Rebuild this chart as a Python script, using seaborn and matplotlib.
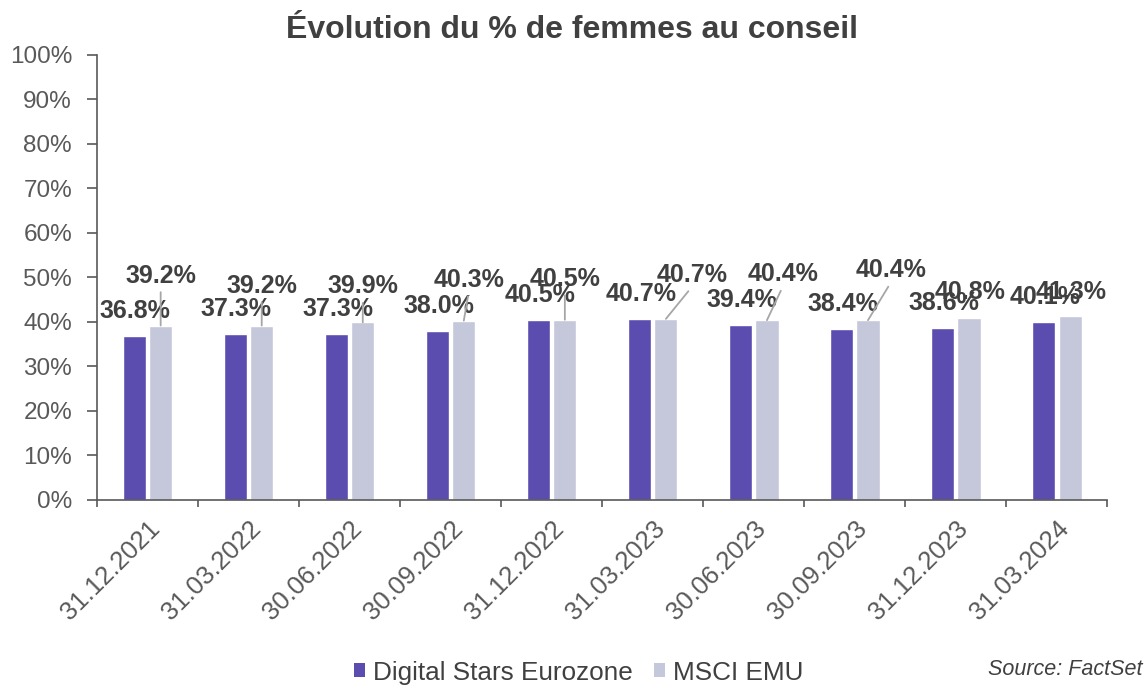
import matplotlib
matplotlib.use("Agg")
import matplotlib.pyplot as plt
from matplotlib.patches import Patch
import pandas as pd
import seaborn as sns

# donnees
dates = ['31.12.2021', '31.03.2022', '30.06.2022', '30.09.2022', '31.12.2022',
         '31.03.2023', '30.06.2023', '30.09.2023', '31.12.2023', '31.03.2024']
digital_stars = [36.8, 37.3, 37.3, 38.0, 40.5, 40.7, 39.4, 38.4, 38.6, 40.1]
msci_emu = [39.2, 39.2, 39.9, 40.3, 40.5, 40.7, 40.4, 40.4, 40.8, 41.3]
series_names = ['Digital Stars Eurozone', 'MSCI EMU']

# decalage des etiquettes (pixels) par rapport au haut des barres
dark_offsets = [(1, 25)] * len(dates)
light_offsets = [(0, 50), (0, 40), (0, 36), (5, 41), (0, 41),
                 (26, 44), (16, 46), (23, 50), (1, 26), (1, 24)]

colors = ['#5b4db0', '#c5c8db']
text_color = '#595959'
label_color = '#404040'

df = pd.DataFrame({
    'date': dates * 2,
    'value': digital_stars + msci_emu,
    'serie': [series_names[0]] * len(dates) + [series_names[1]] * len(dates),
})

sns.set_style("ticks")
plt.rcParams['font.family'] = ['Liberation Sans', 'DejaVu Sans']

fig = plt.figure(figsize=(11.48, 6.88), dpi=100)
ax = fig.add_axes([0.0845, 0.2733, 0.8802, 0.6468])

sns.barplot(data=df, x='date', y='value', hue='serie', palette=colors,
            width=0.52, gap=0.12, legend=False, ax=ax, saturation=1)

ax.set_xlim(-0.5, len(dates) - 0.5)
ax.set_ylim(0, 100)
ax.set_yticks(range(0, 101, 10))
ax.set_yticklabels([f"{v}%" for v in range(0, 101, 10)])
ax.set_xlabel("")
ax.set_ylabel("")

# axes
for side in ['top', 'right']:
    ax.spines[side].set_visible(False)
for side in ['left', 'bottom']:
    ax.spines[side].set_color('#595959')
    ax.spines[side].set_linewidth(1.2)

ax.tick_params(axis='y', length=7, width=1.2, color='#595959', pad=11,
               labelsize=17.5, labelcolor=text_color)
ax.set_xticks([i - 0.5 for i in range(len(dates) + 1)], minor=True)
ax.tick_params(axis='x', which='minor', length=5, width=1.2, color='#595959')
ax.tick_params(axis='x', which='major', length=0, pad=12, labelsize=18.5,
               labelcolor=text_color)
plt.setp(ax.get_xticklabels(), rotation=45, ha='right', va='top',
         rotation_mode='anchor')

# etiquettes de donnees
for container, offsets in zip(ax.containers, [dark_offsets, light_offsets]):
    for bar, (dx, dy) in zip(container, offsets):
        x = bar.get_x() + bar.get_width() / 2
        y = bar.get_height()
        arrow = None
        if (dx ** 2 + dy ** 2) ** 0.5 > 30:
            arrow = dict(arrowstyle='-', color='#a6a6a6', lw=1.3,
                         shrinkA=1, shrinkB=0, relpos=(0.5, 0))
        ax.annotate(f"{y:.1f}%", xy=(x, y), xytext=(dx, dy),
                    textcoords='offset pixels', ha='center', va='center',
                    fontsize=18, fontweight='bold', color=label_color,
                    arrowprops=arrow)

fig.text(0.4983, 0.945, "Évolution du % de femmes au conseil", ha='center',
         va='baseline', fontsize=23, fontweight='bold', color=label_color)

handles = [Patch(facecolor=c, edgecolor='none') for c in colors]
fig.legend(handles, series_names, loc='center', bbox_to_anchor=(0.504, 0.0225),
           ncol=2, frameon=False, fontsize=18.8, handlelength=0.45,
           handleheight=0.45, handletextpad=0.3, columnspacing=0.8,
           labelcolor=label_color)

fig.text(0.995, 0.012, "Source: FactSet", ha='right', va='bottom',
         fontsize=15.5, style='italic', color=label_color)

fig.savefig("out.png", dpi=100)
